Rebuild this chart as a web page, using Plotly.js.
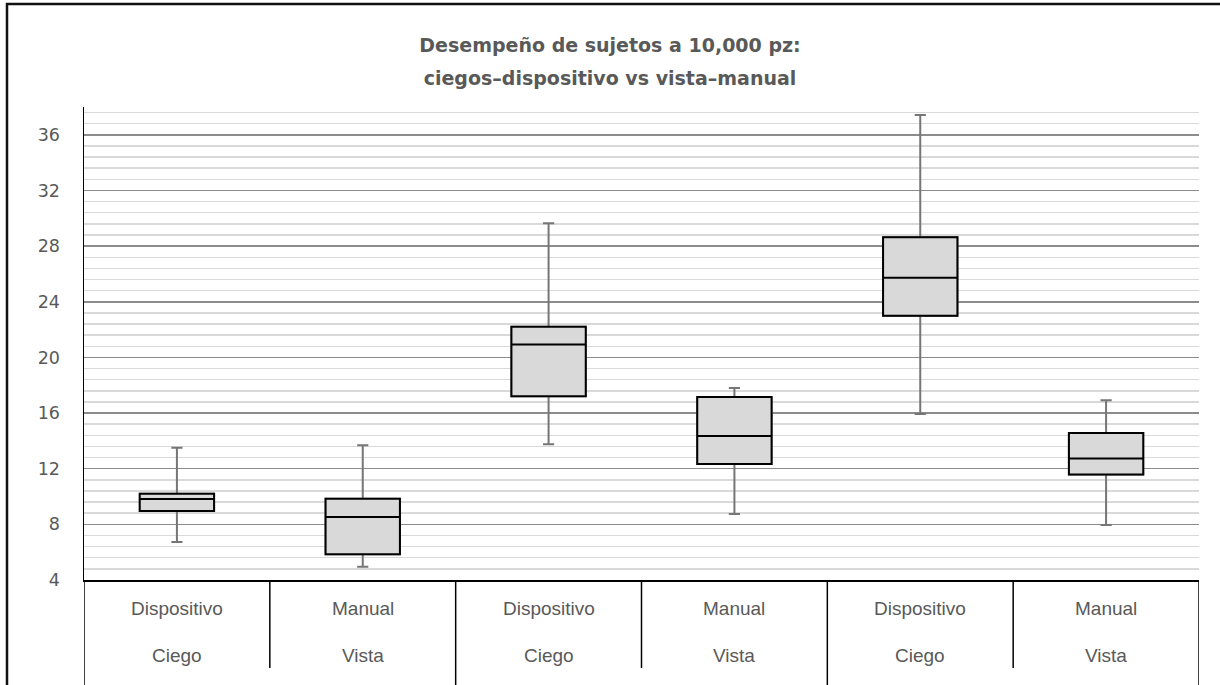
<!DOCTYPE html>
<html>
<head>
<meta charset="utf-8">
<script src="https://cdn.plot.ly/plotly-3.0.1.min.js"></script>
<style>html,body{margin:0;padding:0;background:#fff;}#chart{width:1220px;height:685px;}</style>
</head>
<body>
<div id="chart"></div>
<script>
// Data
var tipo = ["Dispositivo", "Manual", "Dispositivo", "Manual", "Dispositivo", "Manual"];
var grupo = ["Ciego", "Vista", "Ciego", "Vista", "Ciego", "Vista"];
var lowerWhisker = [6.73, 4.96, 13.76, 8.74, 15.94, 7.95];
var q1Values = [8.96, 5.85, 17.2, 12.34, 23.0, 11.59];
var medianValues = [9.82, 8.52, 20.93, 14.35, 25.72, 12.73];
var q3Values = [10.2, 9.84, 22.2, 17.16, 28.63, 14.57];
var upperWhisker = [13.51, 13.69, 29.64, 17.8, 37.43, 16.92];
var yTicks = [4, 8, 12, 16, 20, 24, 28, 32, 36];
var titleLines = ["Desempeño de sujetos a 10,000 pz:", "ciegos–dispositivo vs vista–manual"];

var pos = tipo.map(function (_, i) { return i; });

var whiskers = {
  type: 'box', x: pos,
  q1: q1Values, median: medianValues, q3: q3Values,
  lowerfence: lowerWhisker, upperfence: upperWhisker,
  width: 0.4, whiskerwidth: 0.15,
  fillcolor: '#d9d9d9', line: {color: '#767676', width: 2},
  boxpoints: false, hoverinfo: 'skip', showlegend: false
};
var boxes = {
  type: 'box', x: pos,
  q1: q1Values, median: medianValues, q3: q3Values,
  lowerfence: q1Values, upperfence: q3Values,
  width: 0.4, whiskerwidth: 0,
  fillcolor: '#d9d9d9', line: {color: '#000000', width: 2},
  boxpoints: false, hoverinfo: 'skip', showlegend: false
};

var plotTopPx = 107, plotBotPx = 580, plotH = plotBotPx - plotTopPx;
function py(px) { return (plotBotPx - px) / plotH; }

var shapes = [];
// outer chart frame
shapes.push({type: 'rect', xref: 'paper', yref: 'paper', x0: (7 - 84) / 1115, x1: 1.03, y0: -0.3, y1: py(4),
  line: {color: '#111111', width: 2.5}, fillcolor: 'rgba(0,0,0,0)', layer: 'above'});
// category dividers
for (var k = 0; k <= tipo.length; k++) {
  var longLine = (k % 2 === 0);
  shapes.push({type: 'line', xref: 'x', yref: 'paper', x0: k - 0.5, x1: k - 0.5,
    y0: 0, y1: longLine ? py(690) : py(668), line: {color: '#000000', width: 1.5}});
}

var catFont = {family: 'Liberation Sans, Arial, sans-serif', size: 19, color: '#595959'};
var annotations = [];
tipo.forEach(function (t, i) {
  annotations.push({x: i, y: py(608), xref: 'x', yref: 'paper', text: t, showarrow: false,
    font: catFont, yanchor: 'middle'});
  annotations.push({x: i, y: py(655), xref: 'x', yref: 'paper', text: grupo[i], showarrow: false,
    font: catFont, yanchor: 'middle'});
});

var layout = {
  width: 1220, height: 685,
  margin: {l: 84, r: 21, t: plotTopPx, b: 685 - plotBotPx},
  paper_bgcolor: '#ffffff', plot_bgcolor: '#ffffff',
  boxmode: 'overlay',
  title: {
    text: titleLines.map(function (s) { return "<span style='font-size:19px'>" + s + "</span>"; }).join('<br>'),
    font: {family: 'DejaVu Sans', size: 25.4, color: '#595959', weight: 'bold'},
    x: 0.5, xref: 'container', xanchor: 'center',
    y: 1 - 51.5 / 685, yref: 'container', yanchor: 'middle'
  },
  xaxis: {range: [-0.5, tipo.length - 0.5], showticklabels: false, showgrid: false, zeroline: false,
    showline: true, linecolor: '#000000', linewidth: 1.5, ticks: '', fixedrange: true},
  yaxis: {range: [4, 38], tickvals: yTicks, ticktext: yTicks.map(String), showgrid: true,
    gridcolor: '#8c8c8c', gridwidth: 1.5, zeroline: false, showline: true, linecolor: '#000000', linewidth: 1.5,
    ticks: '', ticklabelstandoff: 19,
    tickfont: {family: 'DejaVu Sans', size: 17.5, color: '#595959'},
    minor: {dtick: 0.8, tick0: 4, showgrid: true, gridcolor: '#d9d9d9', gridwidth: 1.5, ticks: ''},
    fixedrange: true},
  shapes: shapes,
  annotations: annotations
};

Plotly.newPlot('chart', [whiskers, boxes], layout, {displayModeBar: false, staticPlot: true});
</script>
</body>
</html>
